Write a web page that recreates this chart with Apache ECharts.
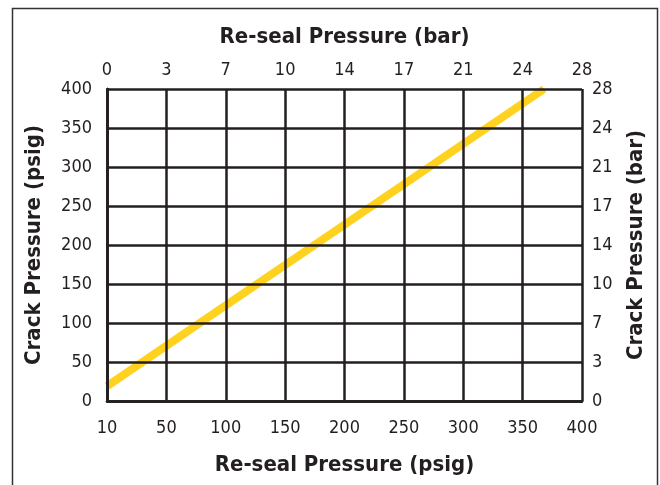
<!DOCTYPE html>
<html><head><meta charset="utf-8">
<script src="https://cdn.jsdelivr.net/npm/echarts@6/dist/echarts.min.js"></script>
<style>html,body{margin:0;padding:0;background:#fff}#c{width:660px;height:485px}</style>
</head><body><div id="c"></div>
<script>
const bottomLabels = ['10','50','100','150','200','250','300','350','400'];
const topLabels = ['0','3','7','10','14','17','21','24','28'];
const leftLabels = ['0','50','100','150','200','250','300','350','400'];
const rightLabels = ['0','3','7','10','14','17','21','24','28'];
const lineX = [0, 368];
const lineY = [19, 400];

const FONT = '"DejaVu Sans Condensed","Liberation Sans Narrow",sans-serif';
const INK = '#231f20';
const fmt = arr => v => arr[Math.round(v / 50)] ?? '';
const lbl = (arr, extra) => Object.assign({formatter: fmt(arr), color: INK, fontFamily: FONT, fontSize: 18}, extra||{});
const nm = {color: INK, fontFamily: FONT, fontSize: 22, fontWeight: 'bold'};
const ax = {type:'value', min:0, max:400, interval:50,
  axisLine:{show:true, lineStyle:{color:INK, width:2.5}}, axisTick:{show:false}};

const chart = echarts.init(document.getElementById('c'));
chart.setOption({
  animation:false,
  grid:{left:107, right:78, top:89, bottom:84, outerBoundsMode:'none', containLabel:false},
  graphic:[{type:'rect', shape:{x:12.5, y:8.5, width:645, height:520}, style:{fill:'none', stroke:'#333', lineWidth:1.5}, silent:true}],
  xAxis:[
    Object.assign({}, ax, {position:'bottom', name:'Re-seal Pressure (psig)', nameLocation:'middle', nameGap:53, nameTextStyle:nm,
      axisLabel:lbl(bottomLabels,{margin:18}), splitLine:{show:true, lineStyle:{color:INK, width:2.5}}}),
    Object.assign({}, ax, {position:'top', name:'Re-seal Pressure (bar)', nameLocation:'middle', nameGap:41, nameTextStyle:nm,
      axisLabel:lbl(topLabels,{margin:10}), splitLine:{show:false}})
  ],
  yAxis:[
    Object.assign({}, ax, {position:'left', name:'Crack Pressure (psig)', nameLocation:'middle', nameGap:62, nameTextStyle:nm,
      axisLabel:lbl(leftLabels,{margin:15}), splitLine:{show:true, lineStyle:{color:INK, width:2.5}}}),
    Object.assign({}, ax, {position:'right', name:'Crack Pressure (bar)', nameLocation:'middle', nameGap:43, nameTextStyle:nm,
      axisLabel:lbl(rightLabels,{margin:10}), splitLine:{show:false}})
  ],
  series:[{type:'line', z:-1, xAxisIndex:0, yAxisIndex:0, symbol:'none',
    lineStyle:{color:'#FFD21F', width:8, cap:'butt'},
    data: lineX.map((x,i)=>[x, lineY[i]])}]
});
</script></body></html>
